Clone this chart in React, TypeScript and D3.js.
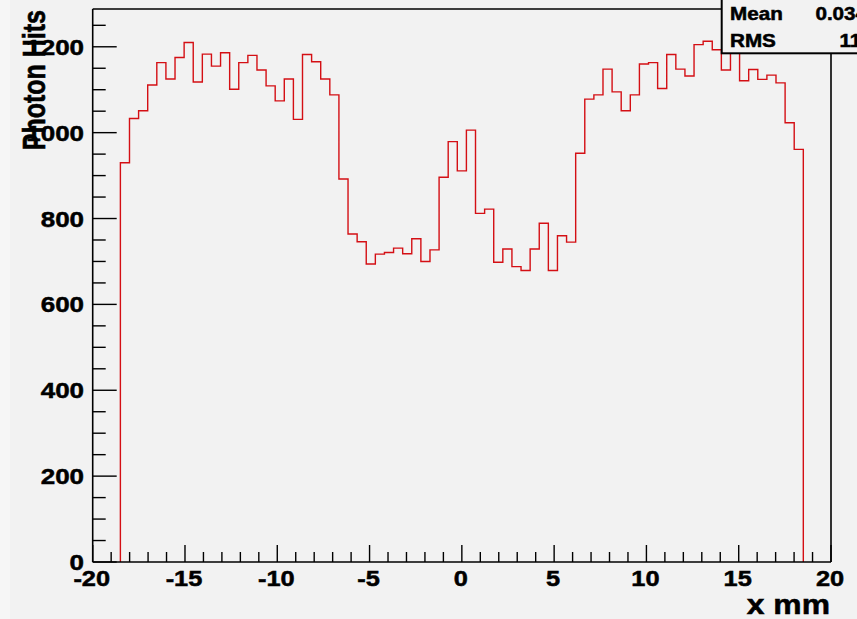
import React from "react";
import * as d3 from "d3";

// Photon hit counts per x bin (75 equal bins spanning -18.5 .. 18.5 mm)
const binLow = -18.5;
const binHigh = 18.5;
const counts = [
  930, 1033, 1051, 1111, 1163, 1125, 1175, 1210, 1118, 1183,
  1155, 1186, 1101, 1163, 1180, 1146, 1109, 1074, 1125, 1031,
  1182, 1165, 1125, 1088, 892, 764, 746, 694, 717, 721,
  731, 718, 753, 700, 727, 896, 979, 911, 1006, 812,
  822, 698, 729, 688, 679, 729, 789, 679, 760, 745,
  952, 1078, 1088, 1148, 1095, 1051, 1088, 1160, 1163, 1103,
  1182, 1148, 1132, 1205, 1213, 1193, 1146, 1226, 1121, 1147,
  1124, 1134, 1116, 1023, 961,
];

const xDomain = [-20, 20];
const yDomain = [0, 1288];
const xMajorTicks = [-20, -15, -10, -5, 0, 5, 10, 15, 20];
const yMajorTicks = [0, 200, 400, 600, 800, 1000, 1200];

const statNames = ["Mean", "RMS"];
const statValues = ["0.03438", "11.07"];

const W = 857;
const H = 619;
const frame = { left: 92.7, right: 831, top: 9, bottom: 562 };
const FONT = "'Liberation Sans', Arial, Helvetica, sans-serif";
const SX = 1.18;

function T({ x, y, anchor = "start", size, children }: any) {
  return (
    <text
      transform={`translate(${x},${y}) scale(${SX},1)`}
      textAnchor={anchor}
      fontFamily={FONT}
      fontWeight="bold"
      fontSize={size}
      fill="#000"
      stroke="#000"
      strokeWidth={0.5}
    >
      {children}
    </text>
  );
}

export default function App() {
  const x = d3.scaleLinear().domain(xDomain).range([frame.left, frame.right]);
  const y = d3.scaleLinear().domain(yDomain).range([frame.bottom, frame.top]);

  const edges = counts.map((_, i) => binLow + ((binHigh - binLow) * i) / counts.length);
  edges.push(binHigh);

  const p = d3.path();
  p.moveTo(x(edges[0]), y(0));
  counts.forEach((c, i) => {
    p.lineTo(x(edges[i]), y(c));
    p.lineTo(x(edges[i + 1]), y(c));
  });
  p.lineTo(x(edges[counts.length]), y(0));

  const xMinor = d3.range(-20, 20.001, 1).filter((v) => !xMajorTicks.includes(v));
  const yMinor = d3.range(0, yDomain[1], 50).filter((v) => !yMajorTicks.includes(v));

  const box = { left: 721.7, bottom: 53.3 };

  return (
    <svg
      width={W}
      height={H}
      style={{ position: "absolute", left: 0, top: 0, background: "#f2f2f2" }}
    >
      <rect x={0} y={0} width={W} height={H} fill="#f2f2f2" />
      <rect x={0} y={0} width={10} height={H} fill="#f6f6f6" />

      {/* histogram outline */}
      <path d={p.toString()} fill="none" stroke="#d40f14" strokeWidth={1.4} />

      {/* frame */}
      <g stroke="#000" strokeWidth={1.6} fill="none">
        <line x1={frame.left} x2={frame.right} y1={frame.bottom} y2={frame.bottom} />
        <line x1={frame.left} x2={frame.left} y1={frame.top} y2={frame.bottom} />
        <line x1={frame.left} x2={frame.right} y1={frame.top} y2={frame.top} />
        <line x1={frame.right} x2={frame.right} y1={frame.top} y2={frame.bottom} />
      </g>

      {/* ticks */}
      <g stroke="#000" strokeWidth={1.4}>
        {xMajorTicks.map((v) => (
          <line key={"xM" + v} x1={x(v)} x2={x(v)} y1={frame.bottom} y2={frame.bottom - 17} />
        ))}
        {xMinor.map((v) => (
          <line key={"xm" + v} x1={x(v)} x2={x(v)} y1={frame.bottom} y2={frame.bottom - 10} />
        ))}
        {yMajorTicks.map((v) => (
          <line key={"yM" + v} x1={frame.left} x2={frame.left + 24} y1={y(v)} y2={y(v)} />
        ))}
        {yMinor.map((v) => (
          <line key={"ym" + v} x1={frame.left} x2={frame.left + 13} y1={y(v)} y2={y(v)} />
        ))}
      </g>

      {/* tick labels */}
      {xMajorTicks.map((v) => (
        <T key={"xl" + v} x={x(v) - 1} y={586} anchor="middle" size={21.5}>
          {String(v)}
        </T>
      ))}
      {yMajorTicks.map((v) => (
        <T key={"yl" + v} x={84} y={y(v) + 8} anchor="end" size={22}>
          {String(v)}
        </T>
      ))}

      {/* axis titles */}
      <T x={830} y={614} anchor="end" size={27}>
        x mm
      </T>
      <g transform={`translate(45,10) scale(1.25,1) rotate(-90)`}>
        <text
          textAnchor="end"
          fontFamily={FONT}
          fontWeight="bold"
          fontSize={25}
          fill="#000"
          stroke="#000"
          strokeWidth={0.5}
        >
          Photon Hits
        </text>
      </g>

      {/* statistics box */}
      <rect
        x={box.left}
        y={-3}
        width={W}
        height={box.bottom + 3}
        fill="#f2f2f2"
        stroke="#000"
        strokeWidth={2}
      />
      {statNames.map((n, i) => (
        <T key={n} x={730} y={20 + i * 26.7} size={17.5}>
          {n}
        </T>
      ))}
      {statValues.map((v, i) => (
        <T key={"v" + i} x={890} y={20 + i * 26.7} anchor="end" size={17.5}>
          {v}
        </T>
      ))}
    </svg>
  );
}
